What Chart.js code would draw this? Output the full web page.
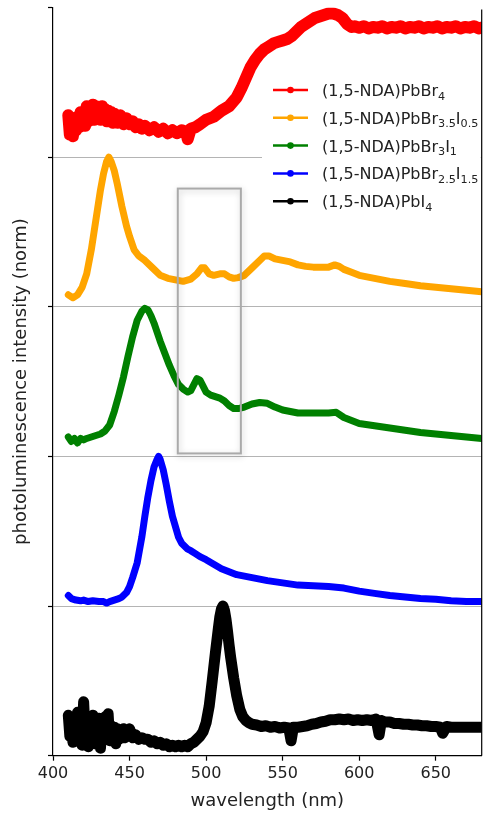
<!DOCTYPE html>
<html>
<head>
<meta charset="utf-8">
<script src="https://cdn.jsdelivr.net/npm/chart.js@4"></script>
<style>
html,body{margin:0;padding:0;background:#fff;}
#wrap{width:483px;height:814px;position:relative;}
</style>
</head>
<body>
<div id="wrap"><canvas id="c" width="483" height="814"></canvas></div>
<script>
// ---- data ----
const xTicks = [400, 450, 500, 550, 600, 650];
const yTicks = [0, 1, 2, 3, 4, 5];
const seriesColors = ['#ff0000', '#ffa500', '#008000', '#0000ff', '#000000'];
const seriesLabels = [
  ['(1,5-NDA)PbBr', '_4'],
  ['(1,5-NDA)PbBr', '_3.5', 'I', '_0.5'],
  ['(1,5-NDA)PbBr', '_3', 'I', '_1'],
  ['(1,5-NDA)PbBr', '_2.5', 'I', '_1.5'],
  ['(1,5-NDA)PbI', '_4']
];
const xTitle = 'wavelength (nm)';
const yTitle = 'photoluminescence intensity (norm)';
const boxX = [481.5, 522.7];
const boxY = [2.02, 3.79];

const wlRed = [410,411,412,413,414,415,416,417,418,419,420,421,422,423,424,425,426,427,428,429,430,431,432,433,434,435,436,437,438,439,440,442,444,446,448,450,452,454,456,458,460,463,466,469,472,475,478,481,484,487,488,490,493,496,500,505,510,515,520,523,526,529,532,535,538,541,544,547,550,553,556,559,562,565,568,571,574,577,580,583,586,589,592,595,597,600,603,606,609,612,615,618,621,624,627,630,633,636,639,642,645,648,651,654,657,660,663,666,669,672,675,678,680];
const plRed = [4.28,4.15,4.22,4.14,4.25,4.18,4.27,4.20,4.30,4.22,4.29,4.21,4.34,4.24,4.32,4.26,4.35,4.25,4.34,4.27,4.33,4.25,4.34,4.26,4.32,4.24,4.31,4.24,4.30,4.23,4.29,4.23,4.28,4.22,4.26,4.22,4.24,4.20,4.22,4.19,4.21,4.18,4.20,4.17,4.19,4.16,4.18,4.16,4.18,4.17,4.12,4.19,4.20,4.22,4.25,4.27,4.31,4.34,4.40,4.46,4.53,4.60,4.65,4.69,4.72,4.74,4.76,4.77,4.78,4.79,4.81,4.84,4.87,4.89,4.91,4.93,4.94,4.95,4.96,4.96,4.95,4.93,4.89,4.87,4.875,4.865,4.875,4.86,4.87,4.865,4.875,4.86,4.87,4.865,4.875,4.86,4.87,4.865,4.875,4.86,4.87,4.865,4.875,4.86,4.87,4.865,4.875,4.86,4.87,4.865,4.875,4.86,4.865];

const wlOrange = [410,413,416,419,422,425,428,431,433,435,436.5,438,440,442,445,448,450,453,456,460,465,470,475,480,485,490,494,497,499,502,505,509,512,515,518,521,525,530,535,538,541,545,550,555,560,565,570,575,580,584,587,590,595,600,610,620,630,640,650,660,670,680];
const plOrange = [3.08,3.06,3.08,3.13,3.22,3.38,3.58,3.78,3.89,3.97,4.00,3.97,3.91,3.82,3.67,3.54,3.47,3.38,3.34,3.31,3.26,3.21,3.19,3.18,3.17,3.185,3.22,3.26,3.26,3.22,3.21,3.22,3.22,3.20,3.19,3.195,3.21,3.26,3.31,3.34,3.34,3.32,3.31,3.30,3.28,3.27,3.265,3.265,3.265,3.28,3.27,3.25,3.23,3.21,3.19,3.17,3.155,3.14,3.13,3.12,3.11,3.10];

const wlGreen = [410,412,414,416,418,420,422,425,428,431,434,437,440,443,446,449,452,455,458,460,462,464,466,468,470,473,476,479,482,485,488,490,492,494,496,498,500,503,506,509,512,515,518,521,525,530,535,540,545,550,555,560,570,580,585,590,595,600,610,620,630,640,650,660,670,680];
const plGreen = [2.13,2.10,2.12,2.09,2.12,2.11,2.12,2.13,2.14,2.15,2.17,2.21,2.30,2.41,2.53,2.67,2.80,2.91,2.97,2.99,2.98,2.94,2.89,2.83,2.77,2.69,2.61,2.54,2.48,2.45,2.43,2.44,2.48,2.52,2.51,2.47,2.43,2.41,2.40,2.39,2.37,2.34,2.32,2.32,2.33,2.35,2.36,2.355,2.33,2.31,2.30,2.29,2.29,2.29,2.295,2.26,2.24,2.22,2.205,2.19,2.175,2.16,2.15,2.14,2.13,2.12];

const wlBlue = [410,412,415,418,420,423,426,430,433,435,437,440,443,445,448,450,452,455,458,460,462,464,466,468,469,470,472,474,476,478,480,482,484,486,488,490,493,496,500,505,510,515,520,530,540,550,560,570,580,590,600,610,620,630,640,650,660,670,680];
const plBlue = [1.07,1.05,1.04,1.035,1.04,1.03,1.035,1.03,1.03,1.02,1.03,1.04,1.05,1.06,1.09,1.13,1.19,1.29,1.46,1.60,1.73,1.84,1.93,1.98,2.00,1.98,1.91,1.81,1.70,1.60,1.53,1.46,1.42,1.40,1.38,1.37,1.35,1.33,1.31,1.28,1.25,1.23,1.21,1.19,1.17,1.155,1.14,1.135,1.13,1.12,1.10,1.085,1.07,1.06,1.05,1.045,1.035,1.03,1.03];

const wlBlack = [410,411,412,413,414,415,416,417,418,419,420,421,422,423,424,425,426,427,428,429,430,431,432,433,434,435,436,437,438,439,440,441,442,443,444,445,446,447,448,449,450,452,454,456,458,460,462,464,466,468,470,472,474,476,478,480,482,484,486,488,490,492,494,496,498,500,502,504,506,508,509,510,511,512,513,514,515,516,518,520,522,524,526,528,530,533,536,539,542,545,548,551,554,555.5,557,560,563,566,569,572,575,578,581,584,587,590,593,596,599,602,605,608,611,613,614.5,617,620,623,626,629,632,635,638,641,644,647,650,653,654.5,657,660,663,666,669,672,675,678,680];
const plBlack = [0.27,0.13,0.24,0.09,0.22,0.15,0.29,0.11,0.25,0.07,0.36,0.14,0.26,0.06,0.24,0.13,0.27,0.08,0.22,0.12,0.25,0.05,0.20,0.11,0.26,0.12,0.28,0.10,0.20,0.12,0.19,0.08,0.18,0.11,0.17,0.12,0.18,0.12,0.17,0.13,0.18,0.12,0.14,0.11,0.12,0.11,0.11,0.09,0.10,0.08,0.09,0.07,0.08,0.06,0.07,0.06,0.07,0.06,0.07,0.06,0.08,0.09,0.11,0.13,0.16,0.22,0.33,0.50,0.68,0.85,0.93,0.98,1.00,0.97,0.91,0.83,0.74,0.66,0.52,0.40,0.31,0.26,0.235,0.22,0.21,0.205,0.195,0.20,0.19,0.195,0.185,0.19,0.185,0.10,0.19,0.19,0.195,0.20,0.21,0.215,0.225,0.23,0.24,0.24,0.245,0.24,0.245,0.235,0.24,0.235,0.24,0.235,0.245,0.14,0.235,0.225,0.225,0.215,0.215,0.21,0.21,0.205,0.205,0.20,0.20,0.195,0.195,0.19,0.15,0.195,0.19,0.19,0.19,0.19,0.19,0.19,0.19,0.19,0.19];

const seriesX = [wlRed, wlOrange, wlGreen, wlBlue, wlBlack];
const seriesY = [plRed, plOrange, plGreen, plBlue, plBlack];
const seriesWidth = [12, 7, 7, 7, 11];

// ---- chart ----
const FONT = '"DejaVu Sans", "Liberation Sans", sans-serif';

const datasets = seriesX.map((xs, i) => ({
  label: seriesLabels[i].join(''),
  data: xs.map((x, k) => ({x: x, y: seriesY[i][k]})),
  borderColor: seriesColors[i],
  backgroundColor: seriesColors[i],
  borderWidth: seriesWidth[i],
  pointRadius: 0,
  borderJoinStyle: 'round',
  borderCapStyle: 'round',
  tension: 0,
  fill: false,
  order: i
}));

function drawRich(ctx, parts, x, baseline, size) {
  let cx = x;
  parts.forEach(p => {
    if (p.startsWith('_')) {
      const t = p.slice(1);
      ctx.font = (size * 0.7) + 'px ' + FONT;
      ctx.fillText(t, cx, baseline + size * 0.22);
      cx += ctx.measureText(t).width;
    } else {
      ctx.font = size + 'px ' + FONT;
      ctx.fillText(p, cx, baseline);
      cx += ctx.measureText(p).width;
    }
  });
}

const decor = {
  id: 'decor',
  afterDatasetsDraw(chart) {
    const ctx = chart.ctx, xs = chart.scales.x, ys = chart.scales.y;
    const a = chart.chartArea;
    // highlight box
    ctx.save();
    const l = xs.getPixelForValue(boxX[0]), r = xs.getPixelForValue(boxX[1]);
    const t = ys.getPixelForValue(boxY[1]), b = ys.getPixelForValue(boxY[0]);
    ctx.shadowColor = 'rgba(0,0,0,0.22)';
    ctx.shadowBlur = 6;
    ctx.shadowOffsetX = 1;
    ctx.shadowOffsetY = 2;
    ctx.strokeStyle = '#aaaaaa';
    ctx.lineWidth = 2;
    ctx.strokeRect(l, t, r - l, b - t);
    ctx.restore();
    // right spine
    ctx.save();
    ctx.strokeStyle = '#000';
    ctx.lineWidth = 1.2;
    ctx.beginPath();
    ctx.moveTo(a.right, a.top + 2);
    ctx.lineTo(a.right, a.bottom);
    ctx.stroke();
    ctx.restore();
  },
  afterDraw(chart) {
    const ctx = chart.ctx, a = chart.chartArea;
    // legend
    ctx.save();
    const lx = 262, ly = 74, lw = a.right - 262 - 1, lh = 143;
    ctx.fillStyle = '#ffffff';
    ctx.fillRect(lx, ly, lw, lh);
    const size = 16;
    seriesLabels.forEach((parts, i) => {
      const cy = 90 + i * 27.8;
      ctx.strokeStyle = seriesColors[i];
      ctx.lineWidth = 2.5;
      ctx.beginPath();
      ctx.moveTo(273, cy);
      ctx.lineTo(308, cy);
      ctx.stroke();
      ctx.fillStyle = seriesColors[i];
      ctx.beginPath();
      ctx.arc(290.5, cy, 3.3, 0, Math.PI * 2);
      ctx.fill();
      ctx.fillStyle = '#222';
      ctx.textBaseline = 'alphabetic';
      ctx.textAlign = 'left';
      drawRich(ctx, parts, 322, cy + 6, size);
    });
    ctx.restore();
    // axis titles
    ctx.save();
    ctx.fillStyle = '#222';
    ctx.font = '18px ' + FONT;
    ctx.textAlign = 'center';
    ctx.textBaseline = 'middle';
    ctx.fillText(xTitle, (a.left + a.right) / 2, 801.5);
    ctx.translate(21, (a.top + a.bottom) / 2);
    ctx.rotate(-Math.PI / 2);
    ctx.fillText(yTitle, 0, 0);
    ctx.restore();
  }
};

new Chart(document.getElementById('c'), {
  type: 'line',
  data: { datasets },
  options: {
    responsive: false,
    animation: false,
    events: [],
    layout: { padding: { left: 48, right: 1.3, top: 7.5, bottom: 0 } },
    plugins: { legend: { display: false }, tooltip: { enabled: false } },
    scales: {
      x: {
        type: 'linear',
        min: 400, max: 680,
        afterBuildTicks: s => { s.ticks = xTicks.map(v => ({value: v})); },
        afterFit: s => { s.height = 58.3; },
        ticks: { font: { family: FONT, size: 16 }, color: '#222', padding: 4, maxRotation: 0,
                 callback: v => String(v) },
        grid: { drawOnChartArea: false, drawTicks: true, tickLength: 5, tickColor: '#000', tickWidth: 1.2 },
        border: { color: '#000', width: 1.2 }
      },
      y: {
        type: 'linear',
        min: 0, max: 5,
        afterBuildTicks: s => { s.ticks = yTicks.map(v => ({value: v})); },
        afterFit: s => { s.width = 5; },
        ticks: { display: false },
        grid: {
          drawTicks: true, tickLength: 5, tickColor: '#000', tickWidth: 1.2,
          color: c => (c.tick && (c.tick.value === 0 || c.tick.value === 5)) ? 'rgba(0,0,0,0)' : '#b4b4b4',
          lineWidth: 1
        },
        border: { color: '#000', width: 1.2 }
      }
    }
  },
  plugins: [decor]
});
</script>
</body>
</html>
